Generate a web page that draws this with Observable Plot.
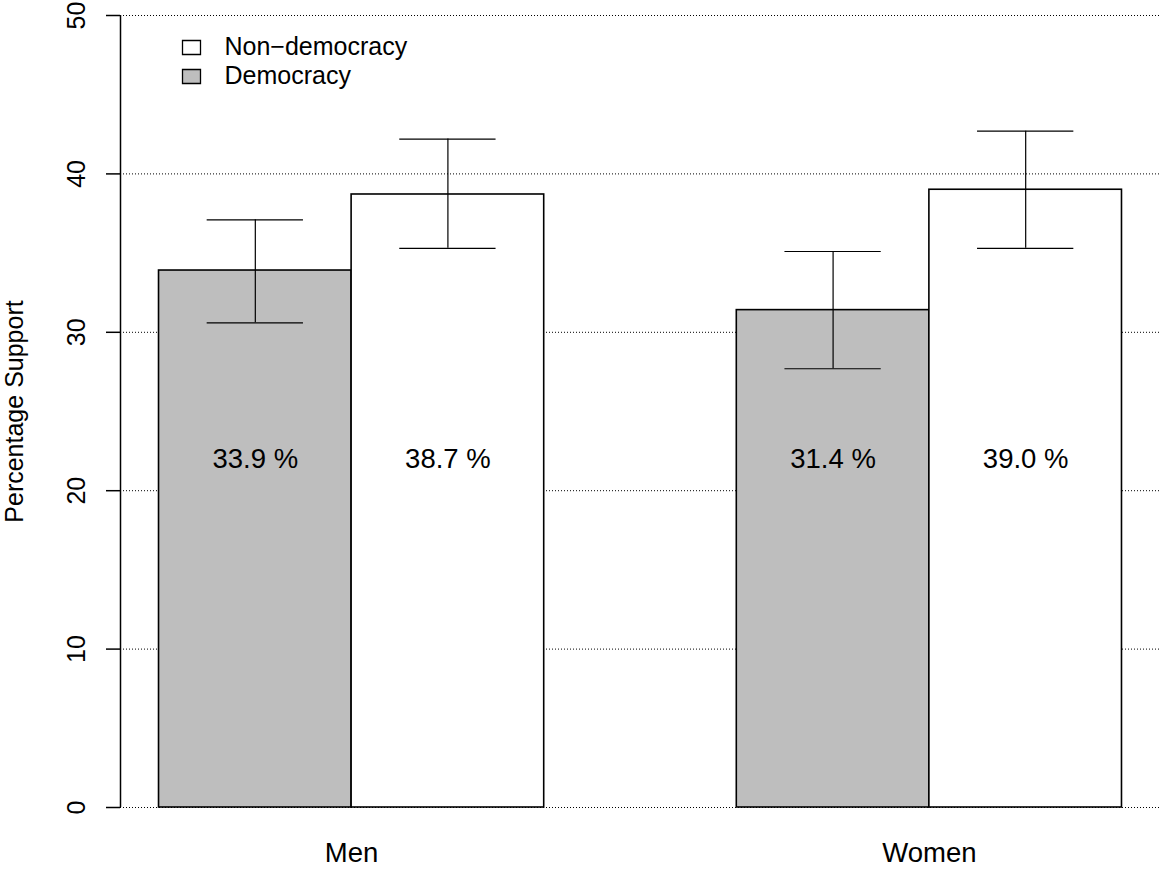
<!DOCTYPE html>
<html>
<head>
<meta charset="utf-8">
<script src="https://cdn.jsdelivr.net/npm/d3@7"></script>
<script src="https://cdn.jsdelivr.net/npm/@observablehq/plot@0.6"></script>
<style>
  html, body { margin: 0; padding: 0; background: #fff; }
  #chart svg { display: block; }
</style>
</head>
<body>
<div id="chart"></div>
<script>
// ---- Data ----
const groups = ["Men", "Women"];
const series = ["Democracy", "Non-democracy"];
const values = [[33.9, 38.7], [31.4, 39.0]];        // [group][series]
const lower  = [[30.6, 35.3], [27.7, 35.3]];
const upper  = [[37.1, 42.2], [35.1, 42.7]];
const yTicks = [0, 10, 20, 30, 40, 50];
const legendLabels = ["Non\u2212democracy", "Democracy"];
const legendSeries = ["Non-democracy", "Democracy"];
const fills = {"Democracy": "#BEBEBE", "Non-democracy": "#FFFFFF"};

// R barplot(beside=TRUE) layout: space c(0,1) -> each group preceded by one bar-width gap
const rows = [];
groups.forEach((g, gi) => {
  series.forEach((s, si) => {
    const left = 1 + gi * (series.length + 1) + si;
    rows.push({group: g, series: s, value: values[gi][si], lo: lower[gi][si], hi: upper[gi][si],
               x1: left, x2: left + 1, xc: left + 0.5});
  });
});
const groupCenters = groups.map((g, gi) => ({group: g, xc: 1 + gi * (series.length + 1) + series.length / 2}));
const xMin = 1, xMax = groups.length * (series.length + 1);
const pad = (xMax - xMin) * 0.04;

const font = "'Liberation Sans', Arial, Helvetica, sans-serif";
const boxSymbol = { draw(ctx) { ctx.rect(-9, -7, 18, 14); } };

const legendMarks = legendLabels.flatMap((lab, i) => [
  Plot.dot([lab], {frameAnchor: "top-left", dx: 71, dy: 32 + i * 29, symbol: boxSymbol, r: 5,
                   fill: fills[legendSeries[i]], stroke: "black", strokeWidth: 1.3}),
  Plot.text([lab], {frameAnchor: "top-left", dx: 104, dy: 31 + i * 29, text: d => d,
                    textAnchor: "start", lineAnchor: "middle", fontSize: 25, fill: "black"})
]);

const chart = Plot.plot({
  width: 1160,
  height: 869,
  marginLeft: 120,
  marginRight: 0,
  marginTop: 15,
  marginBottom: 62,
  style: {fontFamily: font, background: "white", color: "black"},
  x: {domain: [xMin - pad, xMax + pad], axis: null},
  y: {domain: [0, 50], axis: null},
  marks: [
    Plot.ruleY(yTicks, {stroke: "black", strokeDasharray: "1,2", strokeWidth: 1}),
    Plot.rectY(rows, {x1: "x1", x2: "x2", y1: 0, y2: "value", fill: d => fills[d.series],
                      stroke: "black", strokeWidth: 1.6}),
    Plot.ruleX(rows, {x: "xc", y1: "lo", y2: "hi", stroke: "black", strokeWidth: 1.2}),
    Plot.ruleY(rows, {y: "lo", x1: d => d.xc - 0.25, x2: d => d.xc + 0.25, stroke: "black", strokeWidth: 1.2}),
    Plot.ruleY(rows, {y: "hi", x1: d => d.xc - 0.25, x2: d => d.xc + 0.25, stroke: "black", strokeWidth: 1.2}),
    Plot.text(rows, {x: "xc", y: 22, text: d => d.value.toFixed(1) + " %", fontSize: 27.5,
                     lineAnchor: "middle", fill: "black"}),
    // y axis line and ticks
    Plot.ruleX([xMin - pad], {stroke: "black", strokeWidth: 1.5}),
    Plot.axisY({ticks: yTicks, tickSize: 14, tickFormat: () => "", strokeWidth: 1.5, stroke: "black"}),
    Plot.text(yTicks, {y: d => d, frameAnchor: "left", dx: -44, rotate: -90, text: d => String(d),
                       fontSize: 25, textAnchor: "middle", lineAnchor: "middle", fill: "black"}),
    Plot.text(["Percentage Support"], {frameAnchor: "left", dx: -106, rotate: -90, text: d => d,
                       fontSize: 25, textAnchor: "middle", lineAnchor: "middle", fill: "black"}),
    // group labels
    Plot.text(groupCenters, {x: "xc", frameAnchor: "bottom", dy: 46, text: "group", fontSize: 27.5,
                             lineAnchor: "middle", fill: "black"}),
    ...legendMarks
  ]
});
document.getElementById("chart").appendChild(chart);
</script>
</body>
</html>
